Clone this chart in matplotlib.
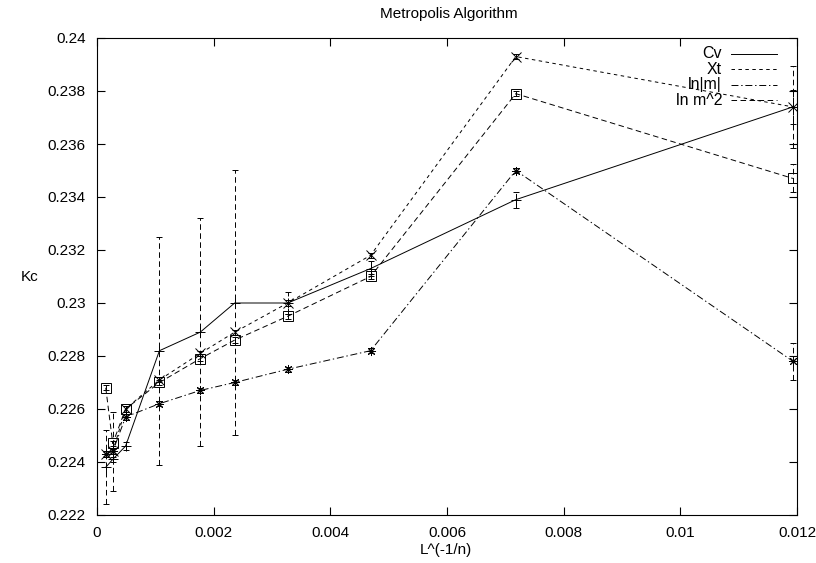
"""Finite-size scaling of the critical coupling Kc from Metropolis runs.

Each observable (specific heat, susceptibility, ln|m|, ln m^2) gives its own
estimate of Kc at every lattice size; plotted against L^(-1/n) with error bars.
"""

import matplotlib

matplotlib.use("Agg")
import matplotlib.pyplot as plt
from matplotlib.lines import Line2D
from matplotlib.ticker import FuncFormatter, MultipleLocator

plt.rcParams["font.family"] = ["Liberation Sans", "DejaVu Sans"]
plt.rcParams["lines.scale_dashes"] = False

# L^(-1/n) for each lattice size
x = [0.00015, 0.00027, 0.00049, 0.00107, 0.00177, 0.00236, 0.00327, 0.00469, 0.00718, 0.01193]

cv = [0.2238, 0.2241, 0.2246, 0.2282, 0.2289, 0.2300, 0.2300, 0.2313, 0.2339, 0.2374]
cv_err = [0.0014, 0.0001, 0.00015, 0.0043, 0.0043, 0.0050, 0.0004, 0.0003, 0.0003, 0.00065]

xt = [0.2243, 0.2244, 0.2260, 0.2271, 0.2281, 0.2289, 0.2300, 0.2318, 0.2393, 0.2374]
xt_err = [0.0001, 0.0015, 0.0001, 0.0001, 0.0001, 0.0001, 0.0001, 0.0001, 0.0001, 0.00155]

lnm = [0.2243, 0.2244, 0.2257, 0.2262, 0.2267, 0.2270, 0.2275, 0.2282, 0.2350, 0.2278]
lnm_err = [0.0001, 0.0001, 0.0001, 0.0001, 0.0001, 0.0001, 0.0001, 0.0001, 0.0001, 0.0007]

lnm2 = [0.2268, 0.2247, 0.2260, 0.2270, 0.2279, 0.2286, 0.2295, 0.2310, 0.2379, 0.2347]
lnm2_err = [0.0001, 0.0001, 0.0001, 0.0001, 0.0001, 0.0001, 0.0001, 0.0001, 0.0001, 0.00053]

labels = ["Cv", "Xt", "ln|m|", "ln m^2"]

# gnuplot-like line types: solid, short dash, dash-dot, dash
styles = [
    dict(ls="-", marker="+"),
    dict(ls=(0, (2.5, 2.5)), marker="x"),
    dict(ls=(0, (5, 2, 1, 2)), marker=(8, 2, 0)),
    dict(ls=(0, (4, 2.5)), marker="s"),
]
BAR_DASH = (0, (4, 2.5))


def main() -> None:
    fig = plt.figure(figsize=(8.16, 5.63), dpi=100)
    ax = fig.add_axes([97 / 816, 1 - 515 / 563, 700 / 816, 477 / 563])

    series = [(cv, cv_err), (xt, xt_err), (lnm, lnm_err), (lnm2, lnm2_err)]
    for (y, err), st in zip(series, styles):
        ax.plot(x, y, color="black", lw=0.7, linestyle=st["ls"])
        ax.plot(x, y, ls="none", marker=st["marker"], ms=6.5, mew=0.7,
                mfc="none", mec="black")
        eb = ax.errorbar(x, y, yerr=err, fmt="none", ecolor="black",
                         elinewidth=0.7, capsize=2.5, capthick=0.7)
        for coll in eb[2]:
            coll.set_linestyle(BAR_DASH)

    ax.set_xlim(0, 0.012)
    ax.set_ylim(0.222, 0.24)
    ax.xaxis.set_major_locator(MultipleLocator(0.002))
    ax.yaxis.set_major_locator(MultipleLocator(0.002))
    fmt = FuncFormatter(lambda v, _: "%g" % round(v, 6))
    ax.xaxis.set_major_formatter(fmt)
    ax.yaxis.set_major_formatter(fmt)
    ax.tick_params(direction="in", length=6, width=0.8, top=True, right=True,
                   labelsize=11)
    ax.tick_params(axis="x", pad=8)
    ax.tick_params(axis="y", pad=8)
    for sp in ax.spines.values():
        sp.set_linewidth(0.8)

    # key in the top-right corner, text right-aligned before each sample
    for i, (lab, st) in enumerate(zip(labels, styles)):
        yk = 1 - (54 + 15.4 * i - 38) / 477
        ax.text(0.893, yk, lab, transform=ax.transAxes, ha="right",
                va="center", fontsize=11.5)
        ax.add_line(Line2D([0.906, 0.971], [yk, yk], transform=ax.transAxes,
                           color="black", lw=0.7, linestyle=st["ls"]))

    fig.text(449 / 816, 1 - 14 / 563, "Metropolis Algorithm", ha="center",
             va="center", fontsize=11)
    fig.text(446 / 816, 1 - 550 / 563, "L^(-1/n)", ha="center", va="center",
             fontsize=11)
    fig.text(30 / 816, 1 - 277 / 563, "Kc", ha="center", va="center",
             fontsize=11)

    fig.savefig("out.png", dpi=100)


if __name__ == "__main__":
    main()
